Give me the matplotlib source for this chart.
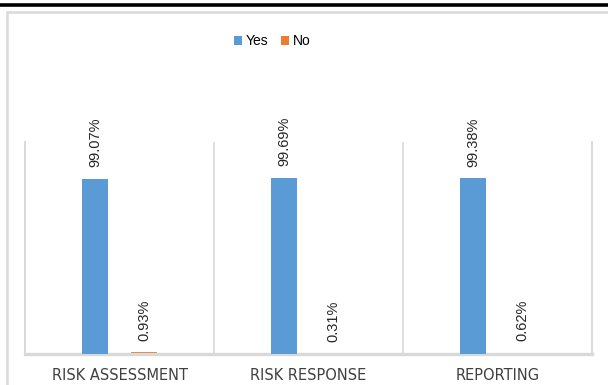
import numpy as np
import matplotlib.pyplot as plt
from matplotlib.patches import Rectangle
from matplotlib.lines import Line2D

# data
categories = ['RISK ASSESSMENT', 'RISK RESPONSE', 'REPORTING']
yes_vals = [99.07, 99.69, 99.38]
no_vals = [0.93, 0.31, 0.62]

blue = '#5B9BD5'
orange = '#ED7D31'
grid = '#D9D9D9'

plt.rcParams['font.family'] = ['Liberation Sans', 'DejaVu Sans']

fig = plt.figure(figsize=(6.08, 3.85), dpi=100)
W, H = 608.0, 385.0

# black rule along the top and the light chart frame
fig.add_artist(Line2D([0, 1], [1 - 4.5/H, 1 - 4.5/H], color='black', lw=2.6))
fig.add_artist(Rectangle((7/W, -0.1), 1.2, 1 - 12/H + 0.1, fill=False,
                         edgecolor=grid, lw=1.8, transform=fig.transFigure))

ax = fig.add_axes([25/W, 1 - 354/H, (592 - 25)/W, (354 - 142)/H])

x = np.arange(len(categories))
off = 0.129
bw = 0.137
ax.bar(x - off, yes_vals, bw, color=blue, label='Yes', zorder=3)
ax.bar(x + off, no_vals, bw, color=orange, label='No', zorder=1)

for xi, v in zip(x, yes_vals):
    ax.text(xi - off, v + 6.5, f'{v:.2f}%', rotation=90, ha='center', va='bottom',
            fontsize=10.5, color='#262626')
for xi, v in zip(x, no_vals):
    ax.text(xi + off, v + 6.5, f'{v:.2f}%', rotation=90, ha='center', va='bottom',
            fontsize=10.5, color='#262626')

ax.set_xlim(-0.5, len(categories) - 0.5)
ax.set_ylim(0, 120)
ax.set_yticks([])
ax.set_xticks(x)
ax.set_xticklabels(categories, fontsize=10.5, color='#404040', family='DejaVu Sans')
ax.tick_params(axis='x', length=0, pad=10)
for xb in [0.5, 1.5]:
    ax.axvline(xb, color=grid, lw=1.2, zorder=1)
for s in ['left', 'right']:
    ax.spines[s].set_color(grid)
    ax.spines[s].set_linewidth(1.4)
ax.spines['bottom'].set_color(grid)
ax.spines['bottom'].set_linewidth(2.4)
ax.spines['bottom'].set_zorder(2.5)
ax.spines['top'].set_visible(False)

fig.legend(loc='center', bbox_to_anchor=(272/W, 1 - 41/H), ncol=2, frameon=False,
           fontsize=10, handlelength=0.6, handleheight=0.6, handletextpad=0.25,
           columnspacing=0.9)

fig.savefig('out.png', dpi=100)
